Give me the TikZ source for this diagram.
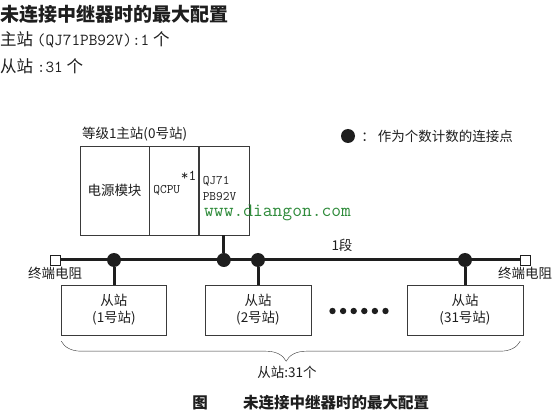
\documentclass[tikz,border=0pt]{standalone}
\usepackage{fontspec}
\newfontfamily\cjk{Noto Sans CJK SC}
\usetikzlibrary{positioning,decorations.pathreplacing,calc}
\usepackage{xcolor}
\definecolor{ink}{HTML}{1E1E1E}
\definecolor{frame}{HTML}{3A3A3A}
\definecolor{mark}{HTML}{2E8B3A}
\tikzset{
  every node/.style={font=\cjk\fontsize{13.5}{15}\selectfont,text=ink,inner sep=0pt},
  module/.style={draw=frame,thin,minimum height=89pt,inner sep=0pt},
  slave/.style={draw=frame,thin,minimum height=50pt,align=center,font=\cjk\fontsize{13.5}{17}\selectfont},
  term/.style={draw=ink,fill=white,thin,minimum size=10pt},
  junction/.style={circle,fill=ink,minimum size=14pt},
  bus/.style={line width=3pt,draw=ink},
  drop/.style={line width=3pt,draw=ink},
  mono/.style={font=\ttfamily\fontsize{13}{16}\selectfont,align=left},
  heading/.style={font=\cjk\bfseries\fontsize{19}{19}\selectfont,anchor=west},
  caption/.style={font=\cjk\bfseries\fontsize{15.5}{15.5}\selectfont},
  brace/.style={draw=frame,thin,decorate,decoration={brace,mirror,amplitude=20pt,aspect=0.49}}
}

\begin{document}
\begin{tikzpicture}[x=1pt,y=-1pt]
\useasboundingbox[fill=white] (0,0) rectangle (558,417);
% heading lines
\node[heading] (title) at (0,14) {未连接中继器时的最大配置};
\node[anchor=west,font=\cjk\fontsize{16.5}{16.5}\selectfont] (master) at (0,40) {主站 {\ttfamily\fontsize{16.8}{16.8}\selectfont(QJ71PB92V):1} 个};
\node[anchor=west,font=\cjk\fontsize{16.5}{16.5}\selectfont] (count) at (0,66) {从站 {\ttfamily\fontsize{16.8}{16.8}\selectfont:31} 个};
% master station
\node[module,minimum width=69pt] (pwr) at (114.5,190.5) {电源模块};
\node[module,minimum width=49pt,right=0pt of pwr] (cpu) {};
\node[module,minimum width=50pt,right=0pt of cpu] (qj) {};
\node[anchor=west] (lvl) at ([xshift=2pt,yshift=12pt]pwr.north west) {等级1主站(0号站)};
\node[mono,anchor=west] (cpul) at ([xshift=4pt]cpu.west) {QCPU};
\node[mono,anchor=east,font=\ttfamily\fontsize{15}{15}\selectfont] (star) at ([xshift=-2pt,yshift=15pt]cpu.east) {*1};
\node[mono,anchor=west] (qjl) at ([xshift=4pt,yshift=2pt]qj.west) {QJ71\\PB92V};
\node[anchor=west,font=\ttfamily\fontsize{19}{19}\selectfont,text=mark] (wm) at (204,213) {www.diangon.com};
% legend
\node[junction] (key) at (348,136) {};
\node[anchor=west] (keytxt) at ([xshift=6pt]key.east) {：\hspace{3pt}作为个数计数的连接点};
% bus
\node[term] (tl) at (55,260) {};
\node[term] (tr) at (525,260) {};
\draw[bus] (tl.east) -- (tr.west);
\node (seg) at (342,245) {1段};
\node[below=2pt of tl] (tlname) {终端电阻};
\node[below=2pt of tr] (trname) {终端电阻};
% slave stations
\node[slave,minimum width=105pt] (s1) at (114,310) {从站\\(1号站)};
\node[slave,minimum width=106pt] (s2) at (258,310) {从站\\(2号站)};
\node[slave,minimum width=116pt] (s31) at (465,310) {从站\\(31号站)};
\node[junction] (j1) at (s1 |- tl) {};
\node[junction] (jm) at (qj.south |- tl) {};
\node[junction] (j2) at (s2 |- tl) {};
\node[junction] (j31) at (s31 |- tl) {};
\draw[drop] (qj.south) -- (jm);
\foreach \s/\j in {s1/j1,s2/j2,s31/j31}
  \draw[drop] (\j) -- (\s.north);
\foreach \i in {0,...,5}
  \fill[ink] ($(s2.east)!0.5!(s31.west)+(\i*10.6-26.5,1)$) circle (3.2pt);
\draw[brace] ([yshift=-6pt]s1.south west) -- ([yshift=-6pt,xshift=-3pt]s31.south east);
\node (total) at (287,372) {从站:31个};
% caption
\node[caption] (figno) at (200,403) {图};
\node[caption,anchor=west] (figcap) at (243,403) {未连接中继器时的最大配置};
\end{tikzpicture}
\end{document}
